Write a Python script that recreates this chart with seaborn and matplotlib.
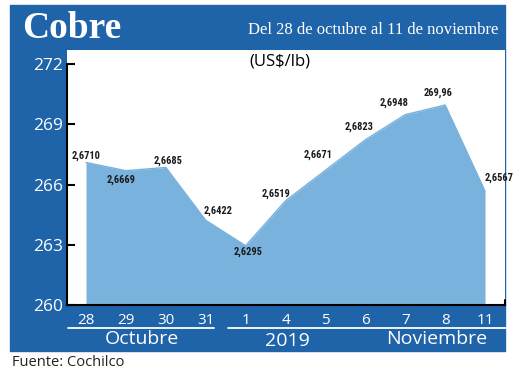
import numpy as np
import pandas as pd
import matplotlib
matplotlib.use('Agg')
import matplotlib.pyplot as plt
from matplotlib.patches import Rectangle
from matplotlib.lines import Line2D
import seaborn as sns

# Data (US$ cents / lb)
dias = ['28', '29', '30', '31', '1', '4', '5', '6', '7', '8', '11']
precios = [267.10, 266.69, 266.85, 264.22, 262.95, 265.19,
           266.71, 268.23, 269.48, 269.96, 265.67]
etiquetas = ['2,6710', '2,6669', '2,6685', '2,6422', '2,6295', '2,6519',
             '2,6671', '2,6823', '2,6948', '269,96', '2,6567']
y_ticks = [260, 263, 266, 269, 272]

df = pd.DataFrame({'pos': np.arange(len(dias)), 'precio': precios})

azul = '#1f63a9'
celeste = '#7ab2de'

sns.set_style('white')
plt.rcParams['font.family'] = ['Open Sans', 'DejaVu Sans']

W, H = 520, 374
fig = plt.figure(figsize=(W / 100, H / 100), dpi=100)

# blue frame behind the plot
fig.add_artist(Rectangle((10 / W, 1 - 351 / H), 495 / W, 346 / H,
                         transform=fig.transFigure, color=azul, zorder=-5))

ax = fig.add_axes([67 / W, 1 - 305 / H, 438 / W, 255 / H])
ax.set_zorder(1)
ax.set_facecolor('white')

sns.lineplot(data=df, x='pos', y='precio', color=celeste, lw=1, ax=ax)
ax.fill_between(df['pos'], 260, df['precio'], color=celeste, lw=0)

ax.set_xlim(-0.476, 10.5)
ax.set_ylim(260, 272.7)
ax.set_xticks(df['pos'])
ax.set_xticklabels(dias)
ax.set_yticks(y_ticks)
ax.set_xlabel('')
ax.set_ylabel('')

ax.tick_params(axis='x', length=0, pad=6, labelsize=11, labelcolor='white')
ax.tick_params(axis='y', direction='in', length=6, width=1.5, color='black',
               pad=3, labelsize=12.5, labelcolor='white', left=True)

for s in ['top', 'right']:
    ax.spines[s].set_visible(False)
ax.spines['left'].set_bounds(260, 272)
ax.spines['left'].set_linewidth(1.5)
ax.spines['bottom'].set_linewidth(1.5)
ax.spines['left'].set_color('black')
ax.spines['bottom'].set_color('black')
ax.plot([10.5, 10.5], [260, 260.25], color='black', lw=1.5, clip_on=False)

# value labels
offsets = [(0, 7), (-5, -9), (2, 7), (12, 9), (2, -6), (-10, 7),
           (-7, 15), (-6, 13), (-11, 12), (-7, 12), (14, 13)]
for i, (lab, (dx, dy)) in enumerate(zip(etiquetas, offsets)):
    ax.annotate(lab, (i, precios[i]), xytext=(dx * 0.72, dy * 0.72),
                textcoords='offset points', ha='center', va='center',
                fontsize=7.5, fontweight='bold', color='#1a1a1a',
                family=['Roboto Condensed', 'Roboto', 'DejaVu Sans'])

# header
fig.text(22 / W, 1 - 28 / H, 'Cobre', fontsize=27, fontweight='bold',
         color='white', va='center', ha='left', family='Liberation Serif')
fig.text(498 / W, 1 - 30 / H, 'Del 28 de octubre al 11 de noviembre',
         fontsize=12, color='white', va='center', ha='right',
         family='Liberation Serif')
fig.text(280 / W, 1 - 62 / H, '(US$/lb)', fontsize=12, color='black',
         va='center', ha='center', zorder=5)

# month bands
fig.add_artist(Line2D([68 / W, 214 / W], [1 - 328 / H] * 2, color='white', lw=1.3))
fig.add_artist(Line2D([228 / W, 507 / W], [1 - 328 / H] * 2, color='white', lw=1.3))
fig.text(142 / W, 1 - 339 / H, 'Octubre', fontsize=14, color='white',
         ha='center', va='center')
fig.text(287 / W, 1 - 341 / H, '2019', fontsize=14, color='white',
         ha='center', va='center')
fig.text(437 / W, 1 - 339 / H, 'Noviembre', fontsize=14, color='white',
         ha='center', va='center')

fig.text(12 / W, 1 - 362 / H, 'Fuente: Cochilco', fontsize=10.5,
         color='#222222', ha='left', va='center')

fig.savefig('out.png', dpi=100)
